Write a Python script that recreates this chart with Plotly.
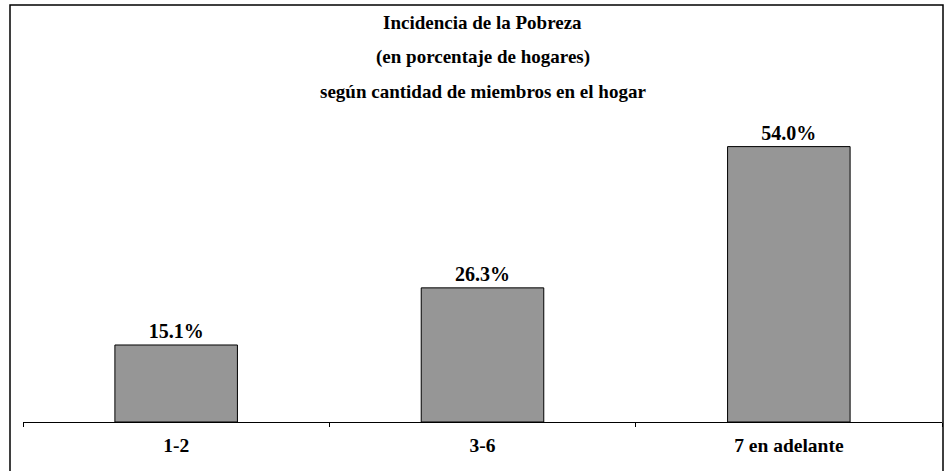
import plotly.graph_objects as go

# Datos
categorias = ["1-2", "3-6", "7 en adelante"]
incidencia = [15.1, 26.3, 54.0]
titulo = ["Incidencia de la Pobreza",
          "(en porcentaje de hogares)",
          "según cantidad de miembros en el hogar"]

W, H = 946, 471
ml, mr, mt, mb = 23, 4, 116, 49
plot_h = H - mt - mb
plot_w = W - ml - mr
serif = "Liberation Serif"

fig = go.Figure()
fig.add_trace(go.Bar(
    x=categorias, y=incidencia,
    width=0.4,
    marker=dict(color="#969696", line=dict(color="black", width=1)),
    text=[f"<b>{v:.1f}%</b>" for v in incidencia],
    textposition="outside",
    textfont=dict(family=serif, size=20, color="black"),
    cliponaxis=False,
))

def py(ypix):
    # pixel (desde arriba) -> coordenada paper
    return (H - mb - ypix) / plot_h

def px(xpix):
    return (xpix - ml) / plot_w

# Título en tres líneas
for i, t in enumerate(titulo):
    fig.add_annotation(text=f"<b>{t}</b>", x=0.5, xref="paper", y=py(23 + 34 * i),
                       yref="paper", showarrow=False, yanchor="middle",
                       font=dict(family=serif, size=19, color="black"))

# Marco del gráfico
fig.add_shape(type="rect", xref="paper", yref="paper",
              x0=px(10), x1=px(943), y0=py(475), y1=py(5),
              line=dict(color="black", width=1.5))

fig.update_layout(
    width=W, height=H,
    margin=dict(l=ml, r=mr, t=mt, b=mb),
    plot_bgcolor="white", paper_bgcolor="white",
    showlegend=False,
    font=dict(family=serif, color="black"),
    xaxis=dict(
        type="category", range=[-0.5, 2.5],
        showline=True, linecolor="black", linewidth=1,
        ticks="outside", tickson="boundaries", ticklen=4, tickcolor="black",
        tickvals=categorias, ticktext=[f"<b>{c}</b>" for c in categorias],
        tickfont=dict(family=serif, size=19.5, color="black"),
        ticklabelstandoff=6,
        showgrid=False,
    ),
    yaxis=dict(range=[0, 60], visible=False, showgrid=False),
)

fig.write_html("out.html", config={"displayModeBar": False},
               post_script="document.body.style.margin='0';")
